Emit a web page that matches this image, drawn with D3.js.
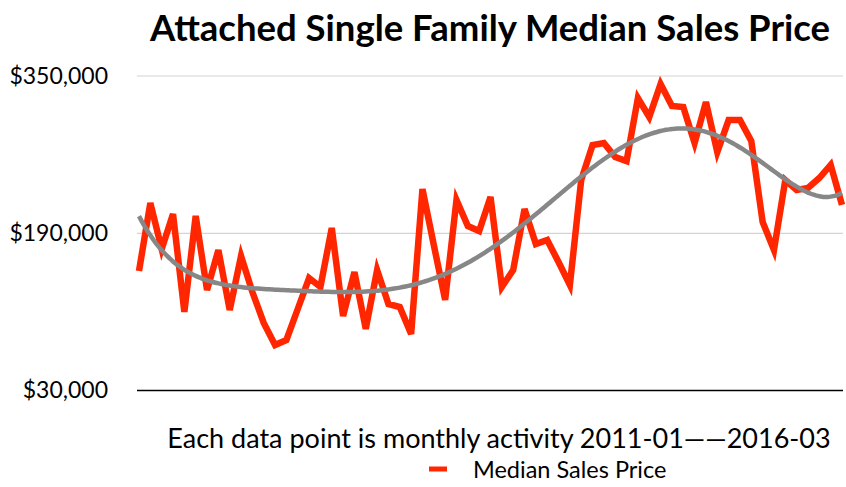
<!DOCTYPE html>
<html lang="en">
<head>
  <meta charset="UTF-8">
  <title>Attached Single Family Median Sales Price</title>
  <script src="https://d3js.org/d3.v7.min.js"></script>
  <style>
    body { margin: 0; padding: 0; background: #fff; }
    svg { display: block; font-family: Lato, "Open Sans", sans-serif; }
  </style>
</head>
<body>
  <svg width="846" height="487"></svg>
  <script>
    // monthly median sales price, 2011-01 .. 2016-03
    const months = d3.timeMonths(new Date(2011, 0, 1), new Date(2016, 3, 1));
    const prices = [
      151700, 220800, 174000, 209600, 110000, 207600, 132300, 173000, 112000, 166900,
      130300, 98800, 76400, 81500, 113000, 144500, 135400, 195400, 105900, 150600,
      92700, 152700, 118100, 115000, 87600, 235000, 178100, 122200, 223900, 197400,
      192300, 226900, 135400, 152700, 214700, 179100, 183200, 160800, 137400, 244200,
      279800, 281800, 267600, 263500, 327600, 308300, 341800, 319500, 318400, 281800,
      323500, 272700, 305200, 305200, 283900, 201500, 173000, 244200, 234000, 236100,
      246200, 259500, 218800
    ];
    const yTicks = [30000, 190000, 350000];
    const trendDegree = 6;

    const svg = d3.select("svg");
    const x = d3.scaleLinear().domain([0, prices.length - 1]).range([139, 842]);
    const y = d3.scaleLinear().domain([30000, 350000]).range([390.6, 76]);

    // title
    svg.append("text")
      .attr("x", 490).attr("y", 41)
      .attr("text-anchor", "middle")
      .attr("font-size", 36.5).attr("font-weight", "bold")
      .text("Attached Single Family Median Sales Price");

    // gridlines
    svg.append("g").selectAll("line")
      .data(yTicks.slice(1))
      .join("line")
      .attr("x1", 137).attr("x2", 843)
      .attr("y1", d => y(d)).attr("y2", d => y(d))
      .attr("stroke", "#d4d4d4").attr("stroke-width", 1.2);

    // y axis labels
    const yAxis = svg.append("g")
      .attr("transform", "translate(137,0)")
      .call(d3.axisLeft(y).tickValues(yTicks).tickFormat(d3.format("$,")).tickSize(0).tickPadding(29));
    yAxis.select(".domain").remove();
    yAxis.selectAll("text").attr("font-size", 23).attr("font-family", "Lato, sans-serif").attr("fill", "#000");

    // baseline
    svg.append("line")
      .attr("x1", 137).attr("x2", 843)
      .attr("y1", y(30000)).attr("y2", y(30000))
      .attr("stroke", "#000").attr("stroke-width", 1.5);

    // data line
    svg.append("path")
      .datum(prices)
      .attr("fill", "none")
      .attr("stroke", "#ff2600")
      .attr("stroke-width", 6.5)
      .attr("stroke-linejoin", "miter")
      .attr("d", d3.line().x((d, i) => x(i)).y(d => y(d)));

    // polynomial trendline (least squares)
    function polyFit(vals, deg) {
      const n = vals.length, m = deg + 1;
      const A = Array.from({ length: m }, () => new Array(m + 1).fill(0));
      vals.forEach((v, i) => {
        const t = i / (n - 1);
        for (let r = 0; r < m; r++) {
          for (let c = 0; c < m; c++) A[r][c] += Math.pow(t, r + c);
          A[r][m] += Math.pow(t, r) * v;
        }
      });
      for (let k = 0; k < m; k++) {
        let p = k;
        for (let r = k + 1; r < m; r++) if (Math.abs(A[r][k]) > Math.abs(A[p][k])) p = r;
        [A[k], A[p]] = [A[p], A[k]];
        for (let r = 0; r < m; r++) {
          if (r === k) continue;
          const f = A[r][k] / A[k][k];
          for (let c = k; c <= m; c++) A[r][c] -= f * A[k][c];
        }
      }
      const coef = A.map((row, k) => row[m] / row[k]);
      return i => coef.reduce((s, c, k) => s + c * Math.pow(i / (n - 1), k), 0);
    }
    const trend = polyFit(prices, trendDegree);
    const steps = d3.range(0, prices.length - 1 + 0.001, 0.25);
    svg.append("path")
      .datum(steps)
      .attr("fill", "none")
      .attr("stroke", "#878787")
      .attr("stroke-width", 4.5)
      .attr("d", d3.line().x(d => x(d)).y(d => y(trend(d))).curve(d3.curveBasis));

    // caption
    const fmt = d3.timeFormat("%Y-%m");
    svg.append("text")
      .attr("x", 499).attr("y", 448)
      .attr("text-anchor", "middle")
      .attr("font-size", 27)
      .text("Each data point is monthly activity " + fmt(months[0]) + "\u2014\u2014" + fmt(months[months.length - 1]));

    // legend
    const legend = svg.append("g").attr("transform", "translate(429,469)");
    legend.append("line")
      .attr("x1", 0).attr("x2", 18).attr("y1", 0).attr("y2", 0)
      .attr("stroke", "#ff2600").attr("stroke-width", 5);
    legend.append("text")
      .attr("x", 44).attr("y", 9)
      .attr("font-size", 23.5)
      .text("Median Sales Price");
  </script>
</body>
</html>
